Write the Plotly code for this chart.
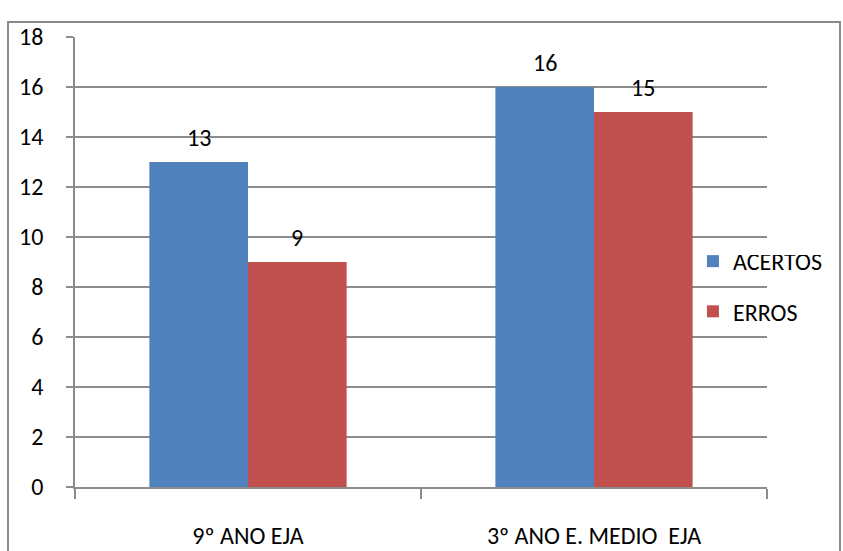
import plotly.graph_objects as go

categories = ["9º ANO EJA", "3º ANO E. MEDIO  EJA"]
acertos = [13, 16]
erros = [9, 15]
y_ticks = [0, 2, 4, 6, 8, 10, 12, 14, 16, 18]

FONT = "Carlito, Calibri, 'Liberation Sans Narrow', Lato, sans-serif"
BLUE = "#4F81BD"
RED = "#C0504D"
GRID = "#8c8c8c"
FS = 24

fig = go.Figure()
fig.add_trace(go.Bar(name="ACERTOS", x=categories, y=acertos, marker_color=BLUE,
                     marker_line_width=0, legendgroup="a"))
fig.add_trace(go.Bar(name="ERROS", x=categories, y=erros, marker_color=RED,
                     marker_line_width=0, legendgroup="e"))

# value labels above each bar
for vals, shift in ((acertos, -49), (erros, 49)):
    for c, v in zip(categories, vals):
        fig.add_annotation(x=c, y=v, text=str(v), showarrow=False, xshift=shift,
                           yshift=25, font=dict(family=FONT, size=FS, color="black"))

# chart frame
fig.add_shape(type="rect", xref="paper", yref="paper", x0=-0.0968, x1=1.1055,
              y0=-0.2, y1=1.0333, line=dict(color="#8a8a8a", width=2), layer="below")

fig.update_layout(
    width=843, height=551,
    margin=dict(l=75, r=76, t=37, b=64),
    paper_bgcolor="white", plot_bgcolor="white",
    barmode="group", bargap=0.43, bargroupgap=0,
    font=dict(family=FONT, size=FS, color="black"),
    legend=dict(x=0.893, y=0.4455, xanchor="left", yanchor="middle",
                traceorder="grouped", tracegroupgap=16,
                font=dict(family=FONT, size=FS, color="black"), bgcolor="rgba(0,0,0,0)"),
    xaxis=dict(showline=True, linecolor=GRID, linewidth=1.5, ticks="outside",
               tickson="boundaries", ticklen=10, tickcolor=GRID, tickwidth=1.5,
               ticklabelstandoff=26, showgrid=False, automargin=False),
    yaxis=dict(range=[0, 18], tickvals=y_ticks, showline=True, linecolor=GRID,
               linewidth=1.5, ticks="outside", ticklen=7, tickcolor=GRID, tickwidth=1.5,
               ticklabelstandoff=18, showgrid=True, gridcolor=GRID, gridwidth=1.5,
               zeroline=False, automargin=False),
)

fig.write_html("out.html")
